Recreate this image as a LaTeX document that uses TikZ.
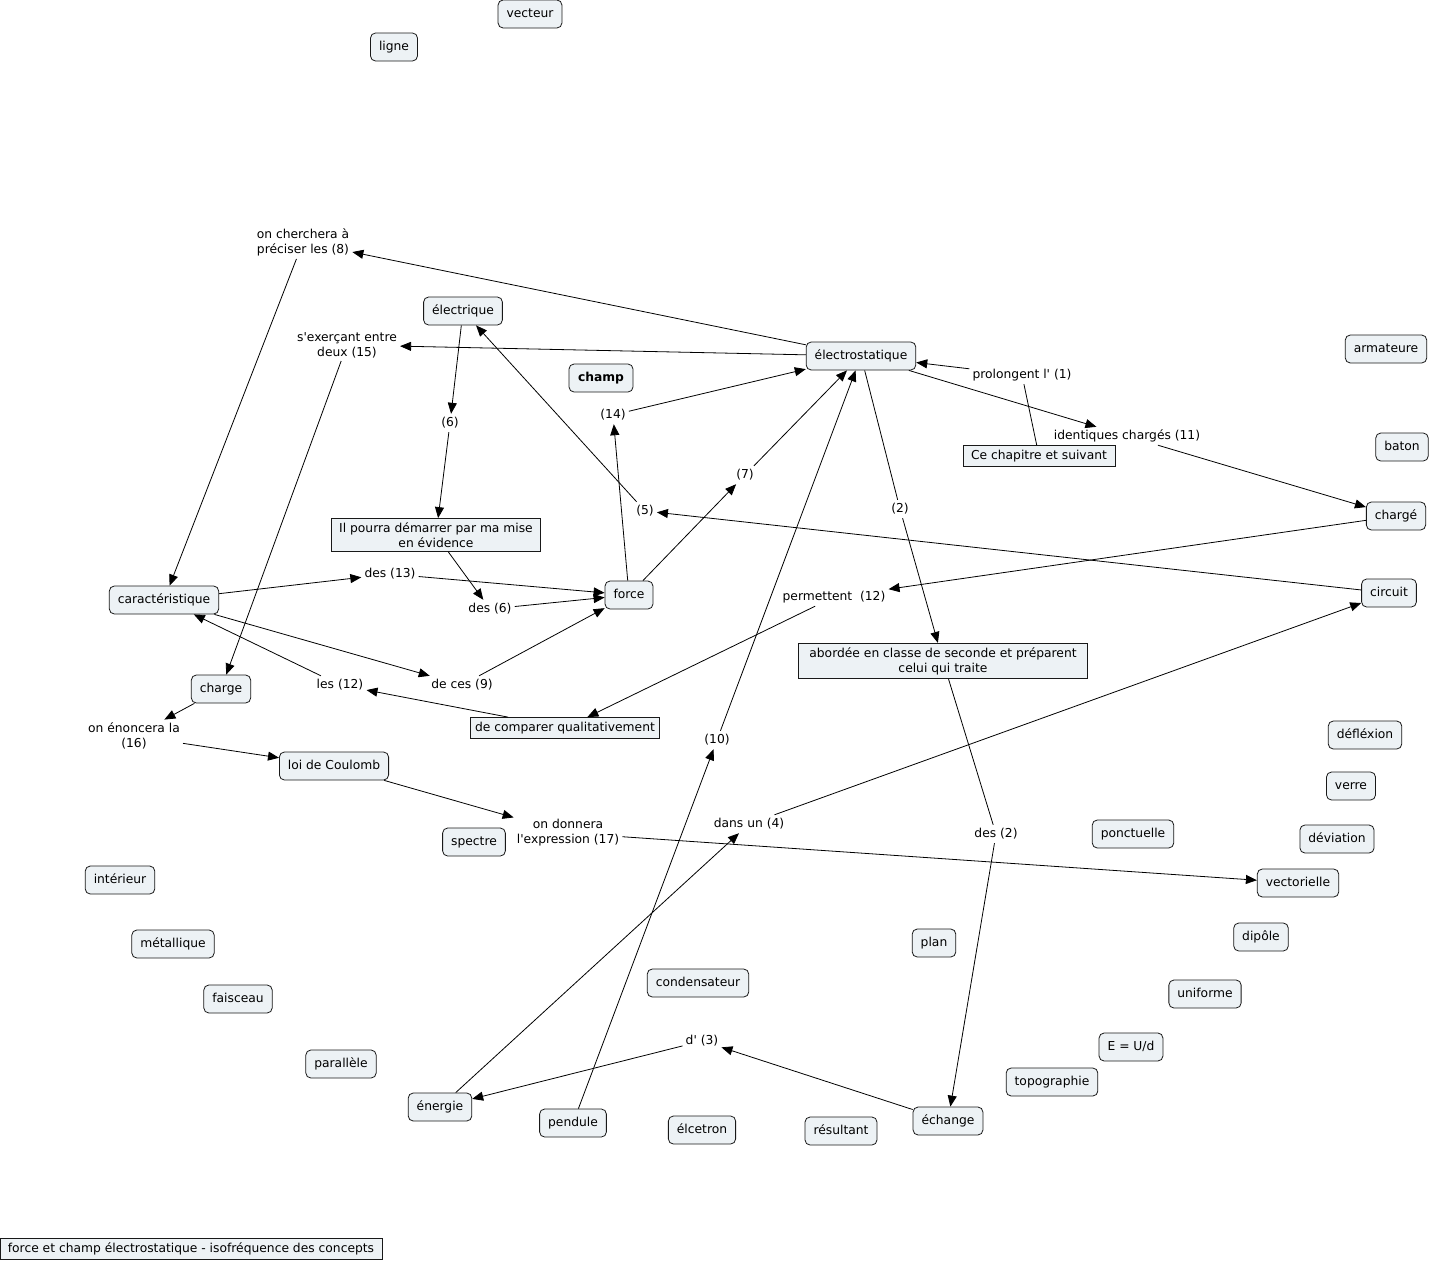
\documentclass[tikz,border=0pt]{standalone}
\usepackage{fontspec}
\setmainfont{DejaVu Sans}[Ligatures=TeXOff]
\usetikzlibrary{arrows.meta}
\definecolor{cfill}{RGB}{237,242,245}
\tikzset{
  base/.style={font=\fontsize{12.3}{15}\selectfont},
  concept/.style={base, draw=black!90, fill=cfill, rounded corners=5pt, line width=0.8pt,
    inner xsep=8.5pt, inner ysep=8pt, text height=9pt, text depth=3pt},
  rectbox/.style={base, draw=black!90, fill=cfill, line width=0.8pt, inner xsep=4pt, inner ysep=4.5pt,
    text height=9pt, text depth=3pt},
  rectmulti/.style={base, draw=black!90, fill=cfill, line width=0.8pt, inner xsep=4pt, inner ysep=4pt, align=center},
  phrase/.style={base, inner sep=3pt, text height=9pt, text depth=3pt},
  phrasemulti/.style={base, inner sep=3pt, align=center},
  conn/.style={draw=black, line width=0.8pt},
  arr/.style={conn, -{Triangle[length=11pt,width=9pt]}}
}
\begin{document}
\begin{tikzpicture}[x=1pt,y=-1pt]
\useasboundingbox (0,0) rectangle (1433,1262);
% concepts
\node[concept] (vecteur) at (530,14) {vecteur};
\node[concept] (ligne) at (394,47) {ligne};
\node[concept] (electrique) at (463,311) {électrique};
\node[concept, minimum width=64pt, font=\fontsize{12.3}{15}\selectfont\bfseries] (champ) at (601,378) {champ};
\node[concept] (electro) at (861,356) {électrostatique};
\node[concept] (armateure) at (1386,349) {armateure};
\node[concept] (baton) at (1402,447) {baton};
\node[concept] (charge2) at (1396,516) {chargé};
\node[concept] (circuit) at (1389,593) {circuit};
\node[concept] (force) at (629,595) {force};
\node[concept] (caract) at (164,600) {caractéristique};
\node[concept] (charge) at (221,689) {charge};
\node[concept] (coulomb) at (334,766) {loi de Coulomb};
\node[concept] (spectre) at (474,842) {spectre};
\node[concept] (interieur) at (120,880) {intérieur};
\node[concept] (metallique) at (173,944) {métallique};
\node[concept] (faisceau) at (238,999) {faisceau};
\node[concept] (parallele) at (341,1064) {parallèle};
\node[concept] (energie) at (440,1107) {énergie};
\node[concept] (pendule) at (573,1123) {pendule};
\node[concept] (elcetron) at (702,1130) {élcetron};
\node[concept] (resultant) at (841,1131) {résultant};
\node[concept] (echange) at (948,1121) {échange};
\node[concept] (condensateur) at (698,983) {condensateur};
\node[concept] (plan) at (934,943) {plan};
\node[concept] (topographie) at (1052,1082) {topographie};
\node[concept] (eud) at (1131,1047) {E = U/d};
\node[concept] (uniforme) at (1205,994) {uniforme};
\node[concept] (dipole) at (1261,937) {dipôle};
\node[concept] (vectorielle) at (1298,883) {vectorielle};
\node[concept] (deviation) at (1337,839) {déviation};
\node[concept] (ponctuelle) at (1133,834) {ponctuelle};
\node[concept] (verre) at (1351,786) {verre};
\node[concept] (deflexion) at (1365,735) {défléxion};
% rectangular boxes
\node[rectbox, minimum width=152pt] (chapitre) at (1039,456) {Ce chapitre et suivant};
\node[rectmulti, minimum width=209pt] (pourra) at (436,535) {Il pourra démarrer par ma mise\\en évidence};
\node[rectmulti, minimum width=289pt] (abordee) at (943,661) {abordée en classe de seconde et préparent\\celui qui traite};
\node[rectbox, minimum width=189pt] (comparer) at (565,728) {de comparer qualitativement};
\node[rectbox, minimum width=382pt] (titre) at (191,1249) {force et champ électrostatique - isofréquence des concepts};
% linking phrases
\node[phrasemulti] (p8) at (303,242) {on cherchera à\\préciser les (8)};
\node[phrasemulti] (p15) at (347,345) {s'exerçant entre\\deux (15)};
\node[phrasemulti] (p16) at (134,736) {on énoncera la\\(16)};
\node[phrasemulti] (p17) at (568,833) {on donnera\\l'expression (17)};
\node[phrase] (p6a) at (450,423) {(6)};
\node[phrase] (p14) at (613,415) {(14)};
\node[phrase] (p7) at (745,475) {(7)};
\node[phrase] (p5) at (645,511) {(5)};
\node[phrase] (p1) at (1022,375) {prolongent l' (1)};
\node[phrase] (p11) at (1127,436) {identiques chargés (11)};
\node[phrase] (p2a) at (900,509) {(2)};
\node[phrase] (p13) at (390,574) {des (13)};
\node[phrase] (p6b) at (490,609) {des (6)};
\node[phrase] (p12a) at (834,597) {permettent\ \ (12)};
\node[phrase] (p12b) at (340,685) {les (12)};
\node[phrase] (p9) at (462,685) {de ces (9)};
\node[phrase] (p10) at (717,740) {(10)};
\node[phrase] (p4) at (749,824) {dans un (4)};
\node[phrase] (p2b) at (996,834) {des (2)};
\node[phrase] (p3) at (702,1041) {d' (3)};
% connectors
\draw[conn] (chapitre) -- (p1);
\draw[arr] (p1) -- (electro);
\draw[conn] (electro) -- (p2a);
\draw[arr] (p2a) -- (abordee);
\draw[conn] (abordee) -- (p2b);
\draw[arr] (p2b) -- (echange);
\draw[arr] (echange) -- (p3);
\draw[arr] (p3) -- (energie);
\draw[arr] (energie) -- (p4);
\draw[arr] (p4) -- (circuit);
\draw[arr] (circuit) -- (p5);
\draw[arr] (p5) -- (electrique);
\draw[arr] (electrique) -- (p6a);
\draw[arr] (p6a) -- (pourra);
\draw[arr] (pourra) -- (p6b);
\draw[arr] (p6b) -- (force);
\draw[arr] (force) -- (p7);
\draw[arr] (p7) -- (electro);
\draw[arr] (electro) -- (p8);
\draw[arr] (p8) -- (caract);
\draw[arr] (caract) -- (p9);
\draw[arr] (p9) -- (force);
\draw[arr] (pendule) -- (p10);
\draw[arr] (p10) -- (electro);
\draw[arr] (electro) -- (p11);
\draw[arr] (p11) -- (charge2);
\draw[arr] (charge2) -- (p12a);
\draw[arr] (p12a) -- (comparer);
\draw[arr] (comparer) -- (p12b);
\draw[arr] (p12b) -- (caract);
\draw[arr] (caract) -- (p13);
\draw[arr] (p13) -- (force);
\draw[arr] (force) -- (p14);
\draw[arr] (p14) -- (electro);
\draw[arr] (electro) -- (p15);
\draw[arr] (p15) -- (charge);
\draw[arr] (charge) -- (p16);
\draw[arr] (p16) -- (coulomb);
\draw[arr] (coulomb) -- (p17);
\draw[arr] (p17) -- (vectorielle);
\end{tikzpicture}
\end{document}
